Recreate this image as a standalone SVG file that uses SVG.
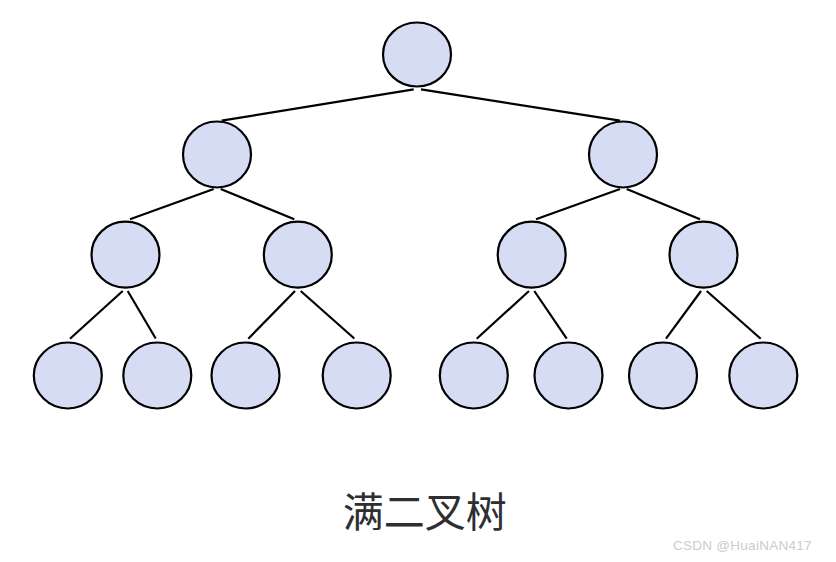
<svg xmlns="http://www.w3.org/2000/svg" width="836" height="562" viewBox="0 0 836 562">
<style>
.n{fill:#d6dcf3;stroke:#000;stroke-width:2.2}
.e line{stroke:#000;stroke-width:2.2;stroke-linecap:butt}
.t{font-family:"Noto Sans CJK SC","Noto Sans",sans-serif;font-size:41px;fill:#2e2e33;text-anchor:middle}
.w{font-family:"Liberation Sans",Arial,sans-serif;font-size:13.5px;fill:#cccccc}
</style>
<rect width="836" height="562" fill="#fff"/>
<g id="connectors" class="e">
<line x1="413.7" y1="89.3" x2="221.7" y2="120.7"/>
<line x1="421" y1="89.3" x2="620" y2="120.7"/>
<line x1="213.7" y1="189" x2="130" y2="219.3"/>
<line x1="220.7" y1="189" x2="294.3" y2="219.3"/>
<line x1="620" y1="189" x2="536" y2="219.3"/>
<line x1="626.7" y1="189" x2="700" y2="219.3"/>
<line x1="122.7" y1="291" x2="70" y2="338.7"/>
<line x1="127.7" y1="291" x2="155.7" y2="338.5"/>
<line x1="295" y1="291" x2="248.3" y2="338.7"/>
<line x1="300.7" y1="291" x2="354.3" y2="338.5"/>
<line x1="529" y1="291" x2="476.7" y2="338.7"/>
<line x1="534.3" y1="291" x2="566.7" y2="338.7"/>
<line x1="701" y1="291" x2="666" y2="338.7"/>
<line x1="706.7" y1="291" x2="760.7" y2="338.7"/>
</g>
<g id="n0"><ellipse class="n" cx="417" cy="54.5" rx="34" ry="32"/></g>
<g id="n1"><ellipse class="n" cx="217" cy="154.5" rx="34" ry="33"/></g>
<g id="n2"><ellipse class="n" cx="623" cy="154.5" rx="34" ry="33"/></g>
<g id="n3"><ellipse class="n" cx="125.5" cy="254.7" rx="34" ry="33"/></g>
<g id="n4"><ellipse class="n" cx="297.8" cy="254.7" rx="34" ry="33"/></g>
<g id="n5"><ellipse class="n" cx="531.7" cy="254.7" rx="34" ry="33"/></g>
<g id="n6"><ellipse class="n" cx="703.5" cy="254.7" rx="34" ry="33"/></g>
<g id="n7"><ellipse class="n" cx="67.8" cy="375.5" rx="34" ry="33"/></g>
<g id="n8"><ellipse class="n" cx="157.3" cy="375.5" rx="34" ry="33"/></g>
<g id="n9"><ellipse class="n" cx="245.5" cy="375.5" rx="34" ry="33"/></g>
<g id="n10"><ellipse class="n" cx="356.7" cy="375.5" rx="34" ry="33"/></g>
<g id="n11"><ellipse class="n" cx="473.8" cy="375.5" rx="34" ry="33"/></g>
<g id="n12"><ellipse class="n" cx="568.5" cy="375.5" rx="34" ry="33"/></g>
<g id="n13"><ellipse class="n" cx="663" cy="375.5" rx="34" ry="33"/></g>
<g id="n14"><ellipse class="n" cx="763.3" cy="375.5" rx="34" ry="33"/></g>
<text class="t" x="424.7" y="527">满二叉树</text>
<text class="w" x="673" y="549.5" textLength="138.5" lengthAdjust="spacing">CSDN @HuaiNAN417</text>
</svg>
